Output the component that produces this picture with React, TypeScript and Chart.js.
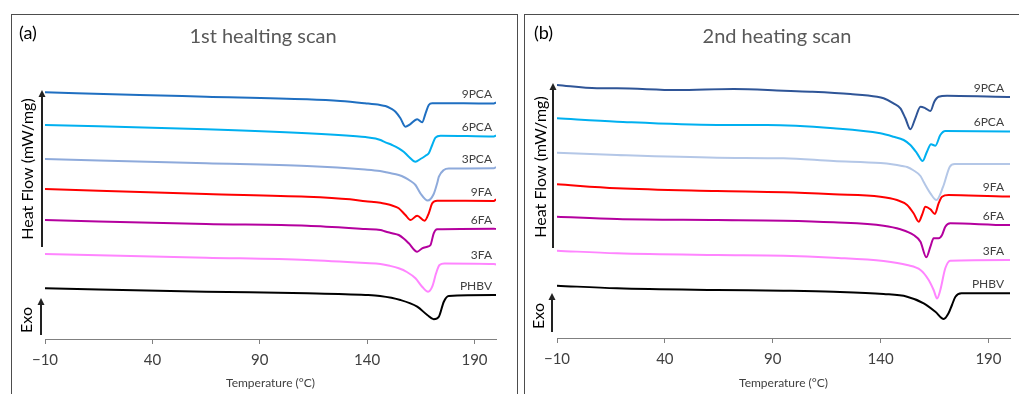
import React, { useEffect, useRef } from 'react';
import { Chart, registerables } from 'chart.js';

Chart.register(...registerables);

// ---------- shared ----------
const TICK_VALUES = [-10, 40, 90, 140, 190];
const SERIES_NAMES = ['9PCA', '6PCA', '3PCA', '9FA', '6FA', '3FA', 'PHBV'];

// ---------- (a) 1st heating scan: temperature (°C) and heat flow (offset, a.u.) ----------
const A_9PCA_T = [-10, 34, 65, 112, 127.5, 139, 146, 148.5, 150.9, 153.2, 155.5, 157.8, 160, 163.3, 165.6, 167.2, 168.7, 170.3, 185, 199, 200];
const A_9PCA_H = [24.67, 24.4, 24.23, 23.97, 23.8, 23.57, 23.4, 23.3, 23.07, 22.73, 22.07, 21.23, 21.47, 21.97, 21.67, 22.57, 23.4, 23.57, 23.57, 23.55, 23.65];

const A_6PCA_T = [-10, 65, 112, 135, 139.2, 143.9, 146.2, 148.5, 151.6, 154.7, 157, 159.4, 162.5, 164.8, 167.2, 168.7, 170.3, 171.8, 174.2, 199, 200];
const A_6PCA_H = [21.4, 20.97, 20.57, 20.28, 20.2, 20.05, 19.9, 19.67, 19.4, 19.07, 18.73, 18.23, 17.73, 18.0, 18.33, 18.57, 19.4, 20.13, 20.33, 20.25, 20.35];

const A_3PCA_T = [-10, 65, 112, 139, 146, 150, 154.7, 157.5, 160.2, 162.5, 164.8, 168.2, 171, 172.6, 173.4, 175.7, 178, 199, 200];
const A_3PCA_H = [18.0, 17.57, 17.3, 16.95, 16.8, 16.62, 16.4, 16.15, 15.8, 15.4, 14.57, 13.85, 14.5, 15.57, 16.23, 16.9, 17.05, 17.07, 17.2];

const A_9FA_T = [-10, 65, 112, 132, 139.2, 146.2, 148.5, 151.6, 154.7, 157.8, 160.2, 163.3, 166.8, 168.7, 170.3, 172.6, 199, 200];
const A_9FA_H = [15.0, 14.5, 14.23, 13.97, 13.78, 13.62, 13.52, 13.35, 13.07, 12.4, 11.9, 12.33, 11.83, 12.57, 13.57, 13.83, 13.8, 13.97];

const A_6FA_T = [-10, 65, 112, 139.2, 146.2, 148.5, 151.6, 154.7, 157, 159.4, 163.3, 165.6, 168, 169.5, 171, 172.6, 199, 200];
const A_6FA_H = [11.9, 11.5, 11.33, 11.0, 10.9, 10.75, 10.58, 10.4, 10.05, 9.57, 8.73, 9.07, 9.23, 9.4, 10.57, 10.97, 11.03, 11.0];

const A_3FA_T = [-10, 65, 112, 139.2, 146.2, 150.5, 154.7, 158.5, 162.5, 165.6, 168.4, 170.3, 172.1, 173.7, 176, 199, 200];
const A_3FA_H = [8.5, 8.13, 7.9, 7.6, 7.5, 7.32, 7.07, 6.7, 6.07, 5.23, 4.73, 5.23, 6.57, 7.4, 7.55, 7.5, 7.45];

const A_PHBV_T = [-10, 65, 112, 139.2, 146, 155.5, 163.3, 168, 171, 173.4, 175.7, 178, 199, 200];
const A_PHBV_H = [5.07, 4.73, 4.57, 4.4, 4.3, 3.9, 3.23, 2.4, 1.97, 2.23, 3.73, 4.3, 4.4, 4.4];

// ---------- (b) 2nd heating scan ----------
const B_9PCA_T = [-10, 8.5, 17.8, 45.6, 71.9, 95, 107.4, 126, 138.4, 141.4, 146, 149.2, 151.5, 153.8, 156.1, 158.5, 160.8, 163.1, 164.9, 166.9, 170.8, 199, 200];
const B_9PCA_H = [25.3, 24.97, 24.97, 24.8, 24.9, 24.73, 24.63, 24.4, 24.13, 23.97, 23.47, 22.97, 21.97, 20.87, 21.97, 23.13, 22.97, 22.7, 23.63, 24.13, 24.23, 24.1, 24.1];

const B_6PCA_T = [-10, 17.8, 64.2, 87.4, 118.2, 139.9, 146, 150.7, 153.8, 156.9, 159.5, 161.5, 163.4, 165.4, 167.7, 170, 199, 200];
const B_6PCA_H = [21.97, 21.63, 21.3, 21.3, 20.97, 20.47, 20.13, 19.8, 19.3, 18.47, 17.7, 18.63, 19.37, 19.23, 20.3, 20.7, 20.65, 20.65];

const B_3PCA_T = [-10, 17.8, 64.2, 95, 118.2, 140, 146, 150, 152.3, 155, 158.5, 160, 163.1, 165.9, 169, 172.1, 174.4, 199, 200];
const B_3PCA_H = [18.53, 18.3, 18.03, 17.97, 17.7, 17.5, 17.35, 17.2, 17.1, 16.8, 16.2, 15.6, 14.47, 13.8, 15.13, 17.13, 17.4, 17.4, 17.4];

const B_9FA_T = [-10, 17.8, 64.2, 95, 118.2, 139.9, 147.6, 152.3, 155.3, 157.7, 159.2, 160.8, 163.1, 165.2, 166.9, 168.5, 171.5, 199, 200];
const B_9FA_H = [15.37, 14.97, 14.7, 14.57, 14.37, 14.13, 13.8, 13.3, 12.47, 11.63, 12.3, 13.13, 12.87, 12.4, 13.47, 14.13, 14.3, 14.15, 14.15];

const B_6FA_T = [-10, 17.8, 64.2, 95, 118.2, 141.4, 149.2, 155.3, 158.5, 161.2, 163.1, 164.6, 166.9, 168.5, 170, 172.3, 199, 200];
const B_6FA_H = [12.13, 11.9, 11.8, 11.73, 11.57, 11.23, 10.87, 10.3, 9.63, 8.07, 9.13, 9.97, 9.97, 10.3, 11.13, 11.47, 11.3, 11.3];

const B_3FA_T = [-10, 17.8, 64.2, 95, 118.2, 141.4, 152.3, 158.5, 162.3, 164.6, 166.2, 167.7, 170, 172.3, 199, 200];
const B_3FA_H = [8.73, 8.47, 8.3, 8.23, 8.03, 7.7, 7.3, 6.8, 5.8, 4.8, 3.95, 4.8, 6.97, 7.73, 7.8, 7.8];

const B_PHBV_T = [-10, 17.8, 64.2, 95, 118.2, 141.4, 152.3, 160, 165.4, 169.3, 171.5, 173.1, 174.7, 177.5, 199, 200];
const B_PHBV_H = [5.23, 4.97, 4.8, 4.73, 4.63, 4.4, 4.13, 3.47, 2.63, 1.9, 2.47, 3.3, 4.13, 4.47, 4.47, 4.47];

const A_COLORS = ['#1f6fc1', '#00b0f0', '#8eaadb', '#ff0000', '#b4009e', '#ff85ff', '#000000'];
const B_COLORS = ['#2f5597', '#00b0f0', '#b4c7e7', '#ff0000', '#b4009e', '#ff85ff', '#000000'];
const A_LABELS = ['9PCA', '6PCA', '3PCA', '9FA', '6FA', '3FA', 'PHBV'];
const B_LABELS = ['9PCA', '6PCA', '', '9FA', '6FA', '3FA', 'PHBV'];

const A_SERIES = [
  [A_9PCA_T, A_9PCA_H], [A_6PCA_T, A_6PCA_H], [A_3PCA_T, A_3PCA_H], [A_9FA_T, A_9FA_H],
  [A_6FA_T, A_6FA_H], [A_3FA_T, A_3FA_H], [A_PHBV_T, A_PHBV_H],
];
const B_SERIES = [
  [B_9PCA_T, B_9PCA_H], [B_6PCA_T, B_6PCA_H], [B_3PCA_T, B_3PCA_H], [B_9FA_T, B_9FA_H],
  [B_6FA_T, B_6FA_H], [B_3FA_T, B_3FA_H], [B_PHBV_T, B_PHBV_H],
];

const FONT = 'Lato, Carlito, "Open Sans", sans-serif';

type Panel = {
  letter: string;
  title: string;
  series: number[][][];
  colors: string[];
  labels: string[];
  canvasLeft: number;
  canvasTop: number;
  width: number;
  height: number;
  pad: { left: number; right: number; top: number };
  xAxisHeight: number;
  letterPos: [number, number];
  titlePos: [number, number];
  yLabelPos: [number, number];
  exoPos: [number, number];
  heatArrow: [number, number, number];
  exoArrow: [number, number, number];
  labelInset: number;
  labelLift: number;
};

const PANEL_A: Panel = {
  letter: '(a)', title: '1st healting scan', series: A_SERIES, colors: A_COLORS, labels: A_LABELS,
  canvasLeft: 12, canvasTop: 15, width: 504, height: 379,
  pad: { left: 33, right: 20, top: 64 }, xAxisHeight: 55,
  letterPos: [7, 18], titlePos: [251, 22], yLabelPos: [16, 154], exoPos: [15, 305],
  heatArrow: [30, 75, 232], exoArrow: [29, 283, 320], labelInset: 4, labelLift: 9,
};

const PANEL_B: Panel = {
  letter: '(b)', title: '2nd heating scan', series: B_SERIES, colors: B_COLORS, labels: B_LABELS,
  canvasLeft: 525, canvasTop: 15, width: 494, height: 379,
  pad: { left: 32, right: 9, top: 63 }, xAxisHeight: 56,
  letterPos: [9, 18], titlePos: [252, 22], yLabelPos: [16, 152], exoPos: [14, 301],
  heatArrow: [28, 68, 233], exoArrow: [27, 278, 317], labelInset: 6, labelLift: 9,
};

function drawArrow(ctx: CanvasRenderingContext2D, x: number, tip: number, bottom: number) {
  ctx.save();
  ctx.strokeStyle = '#222';
  ctx.fillStyle = '#222';
  ctx.lineWidth = 2;
  ctx.beginPath();
  ctx.moveTo(x, bottom);
  ctx.lineTo(x, tip + 5);
  ctx.stroke();
  ctx.beginPath();
  ctx.moveTo(x, tip);
  ctx.lineTo(x - 3.5, tip + 7);
  ctx.lineTo(x + 3.5, tip + 7);
  ctx.closePath();
  ctx.fill();
  ctx.restore();
}

function makeDecor(p: Panel) {
  return {
    id: 'decor' + p.letter,
    afterDraw(chart: any) {
      const ctx: CanvasRenderingContext2D = chart.ctx;
      const ca = chart.chartArea;
      ctx.save();
      ctx.textBaseline = 'middle';
      ctx.fillStyle = '#000';
      ctx.textAlign = 'left';
      ctx.font = `18px ${FONT}`;
      ctx.fillText(p.letter, p.letterPos[0], p.letterPos[1]);

      ctx.fillStyle = '#595959';
      ctx.textAlign = 'center';
      ctx.font = `20px ${FONT}`;
      ctx.fillText(p.title, p.titlePos[0], p.titlePos[1]);

      ctx.fillStyle = '#000';
      ctx.font = `16px ${FONT}`;
      ctx.save();
      ctx.translate(p.yLabelPos[0], p.yLabelPos[1]);
      ctx.rotate(-Math.PI / 2);
      ctx.fillText('Heat Flow (mW/mg)', 0, 0);
      ctx.restore();
      ctx.save();
      ctx.translate(p.exoPos[0], p.exoPos[1]);
      ctx.rotate(-Math.PI / 2);
      ctx.fillText('Exo', 0, 0);
      ctx.restore();

      drawArrow(ctx, p.heatArrow[0], p.heatArrow[1], p.heatArrow[2]);
      drawArrow(ctx, p.exoArrow[0], p.exoArrow[1], p.exoArrow[2]);

      ctx.font = `12px ${FONT}`;
      ctx.fillStyle = '#404040';
      ctx.textAlign = 'right';
      chart.data.datasets.forEach((_ds: any, i: number) => {
        const lbl = p.labels[i];
        if (!lbl) return;
        const meta = chart.getDatasetMeta(i);
        const pt = meta.data[meta.data.length - 2];
        ctx.fillText(lbl, ca.right - p.labelInset, pt.y - p.labelLift);
      });
      ctx.restore();
    },
  };
}

function PanelChart({ panel }: { panel: Panel }) {
  const ref = useRef<HTMLCanvasElement | null>(null);
  useEffect(() => {
    if (!ref.current) return;
    const datasets = panel.series.map((s, i) => ({
      label: SERIES_NAMES[i],
      data: s[0].map((t, k) => ({ x: t, y: s[1][k] })),
      borderColor: panel.colors[i],
      backgroundColor: panel.colors[i],
      borderWidth: 2,
      pointRadius: 0,
      fill: false,
      cubicInterpolationMode: 'monotone' as const,
    }));
    const chart = new Chart(ref.current, {
      type: 'line',
      data: { datasets },
      options: {
        animation: false,
        responsive: false,
        maintainAspectRatio: false,
        layout: { padding: { left: panel.pad.left, right: panel.pad.right, top: panel.pad.top, bottom: 0 } },
        plugins: { legend: { display: false }, title: { display: false }, tooltip: { enabled: false } },
        scales: {
          x: {
            type: 'linear',
            min: -10,
            max: 200,
            afterBuildTicks: (axis: any) => {
              axis.ticks = TICK_VALUES.map((v) => ({ value: v }));
            },
            afterFit: (axis: any) => {
              axis.height = panel.xAxisHeight;
            },
            ticks: {
              autoSkip: false,
              maxRotation: 0,
              padding: 7,
              color: '#404040',
              font: { family: FONT, size: 15 },
              callback: (v: any) => (Number(v) < 0 ? '\u2212' + Math.abs(Number(v)) : String(v)),
            },
            grid: { display: true, drawOnChartArea: false, drawTicks: true, tickLength: 5, color: '#808080', lineWidth: 1 },
            border: { display: true, color: '#808080', width: 1 },
            title: {
              display: true,
              text: 'Temperature (°C)',
              color: '#404040',
              font: { family: FONT, size: 12 },
              padding: { top: 0, bottom: 4 },
            },
          },
          y: { display: false, min: 0, max: 26 },
        },
      },
      plugins: [makeDecor(panel)],
    });
    return () => chart.destroy();
  }, [panel]);
  return (
    <canvas
      ref={ref}
      width={panel.width}
      height={panel.height}
      style={{ position: 'absolute', left: panel.canvasLeft, top: panel.canvasTop, width: panel.width, height: panel.height }}
    />
  );
}

export default function App() {
  return (
    <div style={{ position: 'absolute', left: 0, top: 0, width: 1019, height: 394, overflow: 'hidden', background: '#fff' }}>
      <div style={{ position: 'absolute', left: 11, top: 14, width: 505, height: 420, border: '1px solid #4d4d4d' }} />
      <div style={{ position: 'absolute', left: 524, top: 14, width: 520, height: 420, border: '1px solid #4d4d4d' }} />
      <PanelChart panel={PANEL_A} />
      <PanelChart panel={PANEL_B} />
    </div>
  );
}
